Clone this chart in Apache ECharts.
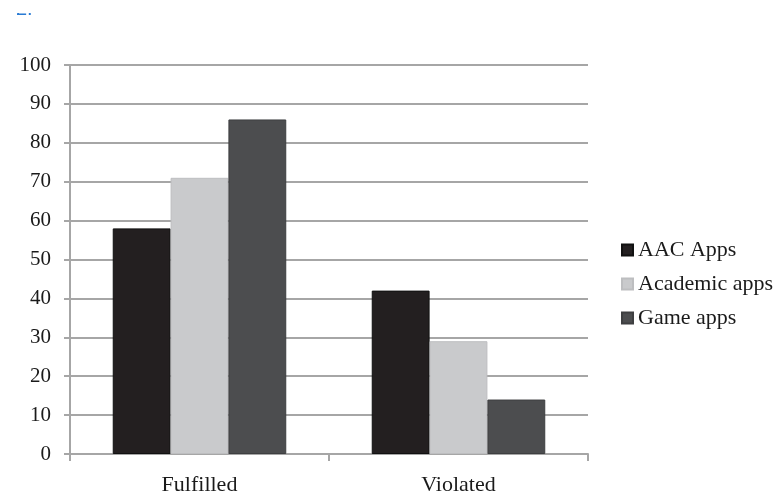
<!DOCTYPE html>
<html><head><meta charset="utf-8">
<script src="https://cdn.jsdelivr.net/npm/echarts@6/dist/echarts.min.js"></script>
<style>html,body{margin:0;padding:0;background:#fff}#c{width:778px;height:496px}</style>
</head><body><div id="c"></div>
<script>
const categories = ['Fulfilled', 'Violated'];
const seriesNames = ['AAC Apps', 'Academic apps', 'Game apps'];
const aacApps = [58, 42];
const academicApps = [71, 29];
const gameApps = [86, 14];
const yTicks = [0, 10, 20, 30, 40, 50, 60, 70, 80, 90, 100];

const colors = ['#231f20', '#c9cacc', '#4c4d4f'];
const borders = ['#111', '#bdbec0', '#3e3f41'];
const font = '"Liberation Serif", "Times New Roman", serif';
const values = [aacApps, academicApps, gameApps];

const chart = echarts.init(document.getElementById('c'));
chart.setOption({
  animation: false,
  backgroundColor: '#fff',
  color: colors,
  grid: { left: 70, right: 190, top: 65, bottom: 41 },
  legend: {
    orient: 'vertical', left: 616, top: 234,
    itemWidth: 11, itemHeight: 11, itemGap: 12,
    icon: 'rect',
    textStyle: { fontFamily: font, fontSize: 22, color: '#1a1a1a', padding: [0, 0, 0, 0] },
    data: seriesNames
  },
  xAxis: {
    type: 'category', data: categories,
    axisLine: { lineStyle: { color: '#a6a6a6', width: 2 } },
    axisTick: { show: true, length: 7, lineStyle: { color: '#a6a6a6', width: 2 } },
    axisLabel: { fontFamily: font, fontSize: 22, color: '#1a1a1a', margin: 20 }
  },
  yAxis: {
    type: 'value', min: yTicks[0], max: yTicks[yTicks.length - 1], interval: 10,
    axisLine: { show: true, lineStyle: { color: '#a6a6a6', width: 2 } },
    axisTick: { show: true, length: 6, lineStyle: { color: '#a6a6a6', width: 2 } },
    splitLine: { lineStyle: { color: '#a6a6a6', width: 2 } },
    axisLabel: { fontFamily: font, fontSize: 21, color: '#1a1a1a', margin: 19 }
  },
  series: seriesNames.map((n, i) => ({
    name: n, type: 'bar', data: values[i],
    barGap: '0%', barCategoryGap: '33%',
    itemStyle: { color: colors[i], borderColor: borders[i], borderWidth: 1 }
  })),
  graphic: [
    { type: 'text', left: 16, top: -1, z: 1,
      style: { text: '2.', fontFamily: 'Liberation Sans, sans-serif', fontSize: 20, fill: '#2a7bd4' } },
    { type: 'rect', left: 0, top: 0, z: 2, shape: { width: 60, height: 13 }, style: { fill: '#fff' } }
  ]
});
</script></body></html>
